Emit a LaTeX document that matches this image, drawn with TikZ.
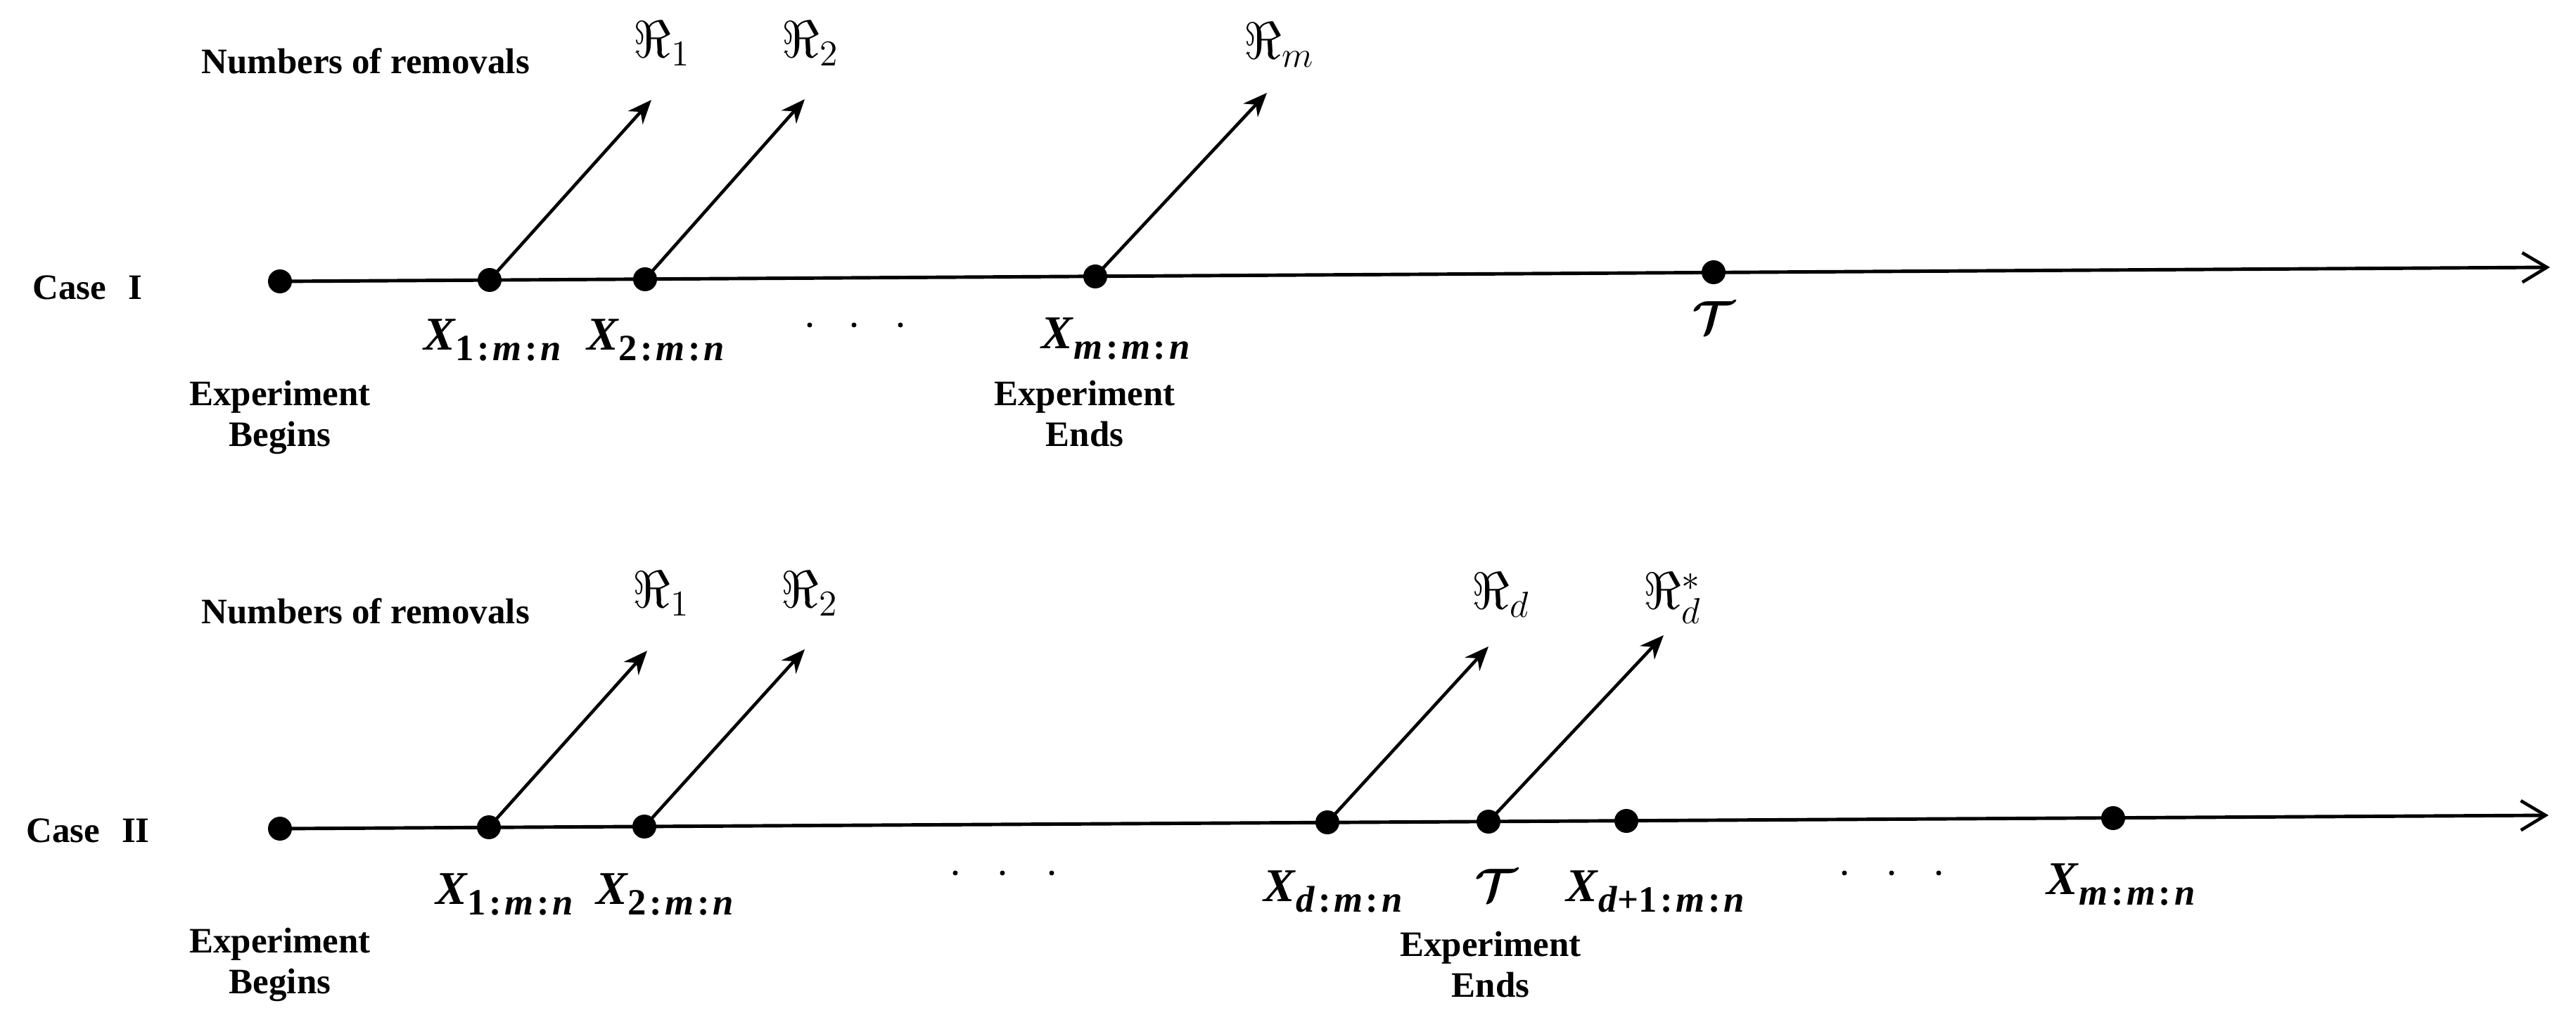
\RequirePackage{fix-cm}
\documentclass[tikz,border=0pt]{standalone}
\usepackage{amsmath}
\usepackage{fontspec}
\setmainfont{Liberation Serif}
\usetikzlibrary{arrows.meta,positioning}
\newcommand{\subsep}{\kern1.3pt:\kern1.3pt}
\newcommand{\obsx}[1]{\textbf{\textit{X}}\raisebox{-0.5ex}{\fontsize{15}{15}\selectfont\bfseries #1}}

\begin{document}
\begin{tikzpicture}[
        event/.style={circle, fill=black, minimum size=0.34cm, inner sep=0pt},
        axis/.style={line width=1.4pt, -{Straight Barb[length=0.35cm, width=0.42cm, line width=1.3pt]}},
        removal/.style={line width=1.3pt, -{Stealth[length=0.34cm, width=0.28cm]}},
        caption/.style={font=\fontsize{14.5}{16.5}\selectfont\bfseries, align=center, inner sep=0pt},
        obs/.style={font=\fontsize{19}{22}\selectfont, inner sep=0pt, anchor=north},
        rem/.style={font=\fontsize{21}{24}\selectfont, inner sep=0pt, anchor=base west}
    ]
        \useasboundingbox (0,0) rectangle (36.62,-14.50);

        % Case I
        \node[caption, anchor=base west] (case1) at (0.46,-4.26) {Case\hspace{0.6em}I};
        \node[caption, anchor=base west] (num1) at (2.86,-1.05) {Numbers of removals};
        \node[event] (b1) at (3.98,-4.00) {};
        \node[event] (x11) at (6.96,-3.98) {};
        \node[event] (x12) at (9.17,-3.97) {};
        \node[event] (x1m) at (15.57,-3.93) {};
        \node[event] (tau1) at (24.36,-3.87) {};
        \coordinate (e1) at (36.25,-3.80);
        \draw[axis] (b1.center) -- (e1);

        \coordinate (t11) at (9.26,-1.42);
        \coordinate (t12) at (11.44,-1.41);
        \coordinate (t1m) at (18.01,-1.32);
        \draw[removal] (x11.center) -- (t11);
        \draw[removal] (x12.center) -- (t12);
        \draw[removal] (x1m.center) -- (t1m);
        \node[rem] (r11) at (9.00,-0.82) {$\Re_1$};
        \node[rem] (r12) at (11.11,-0.82) {$\Re_2$};
        \node[rem] (r1m) at (17.68,-0.84) {$\Re_m$};

        \node[obs] (l11) at (7.00,-4.53) {\obsx{1\subsep\textit{m}\subsep\textit{n}}};
        \node[obs] (l12) at (9.32,-4.53) {\obsx{2\subsep\textit{m}\subsep\textit{n}}};
        \node[obs] (l1m) at (15.86,-4.51) {\obsx{\textit{m}\subsep\textit{m}\subsep\textit{n}}};
        \node[obs] (lt1) at (24.36,-4.28) {$\boldsymbol{\mathcal{T}}$};
        \foreach \x in {11.51,12.14,12.80} \fill (\x,-4.62) circle (0.035);

        \node[caption, anchor=north, below=1.23cm of b1] (beg1) {Experiment\\Begins};
        \node[caption, anchor=north, below=1.30cm of x1m, xshift=-0.15cm] (end1) {Experiment\\Ends};

        % Case II
        \node[caption, anchor=base west] (case2) at (0.37,-11.97) {Case\hspace{0.6em}II};
        \node[caption, anchor=base west] (num2) at (2.86,-8.87) {Numbers of removals};
        \node[event] (b2) at (3.98,-11.78) {};
        \node[event] (x21) at (6.95,-11.76) {};
        \node[event] (x22) at (9.16,-11.75) {};
        \node[event] (x2d) at (18.87,-11.69) {};
        \node[event] (tau2) at (21.16,-11.68) {};
        \node[event] (x2e) at (23.12,-11.67) {};
        \node[event] (x2m) at (30.04,-11.63) {};
        \coordinate (e2) at (36.23,-11.59);
        \draw[axis] (b2.center) -- (e2);

        \coordinate (t21) at (9.20,-9.25);
        \coordinate (t22) at (11.44,-9.23);
        \coordinate (t2d) at (21.16,-9.19);
        \coordinate (t2s) at (23.65,-9.03);
        \draw[removal] (x21.center) -- (t21);
        \draw[removal] (x22.center) -- (t22);
        \draw[removal] (x2d.center) -- (t2d);
        \draw[removal] (tau2.center) -- (t2s);
        \node[rem] (r21) at (8.99,-8.64) {$\Re_1$};
        \node[rem] (r22) at (11.10,-8.64) {$\Re_2$};
        \node[rem] (r2d) at (20.92,-8.66) {$\Re_d$};
        \node[rem] (r2s) at (23.36,-8.66) {$\Re_d^{*}$};

        \node[obs] (l21) at (7.17,-12.41) {\obsx{1\subsep\textit{m}\subsep\textit{n}}};
        \node[obs] (l22) at (9.45,-12.41) {\obsx{2\subsep\textit{m}\subsep\textit{n}}};
        \node[obs] (l2d) at (18.95,-12.37) {\obsx{\textit{d}\subsep\textit{m}\subsep\textit{n}}};
        \node[obs] (lt2) at (21.27,-12.35) {$\boldsymbol{\mathcal{T}}$};
        \node[obs] (l2e) at (23.53,-12.37) {\obsx{\textit{d}+1\subsep\textit{m}\subsep\textit{n}}};
        \node[obs] (l2m) at (30.15,-12.27) {\obsx{\textit{m}\subsep\textit{m}\subsep\textit{n}}};
        \foreach \x in {13.58,14.25,14.95,26.22,26.89,27.56} \fill (\x,-12.41) circle (0.035);

        \node[caption, anchor=north, below=1.23cm of b2] (beg2) {Experiment\\Begins};
        \node[caption, anchor=north, below=1.38cm of tau2, xshift=0.03cm] (end2) {Experiment\\Ends};
    \end{tikzpicture}
\end{document}
